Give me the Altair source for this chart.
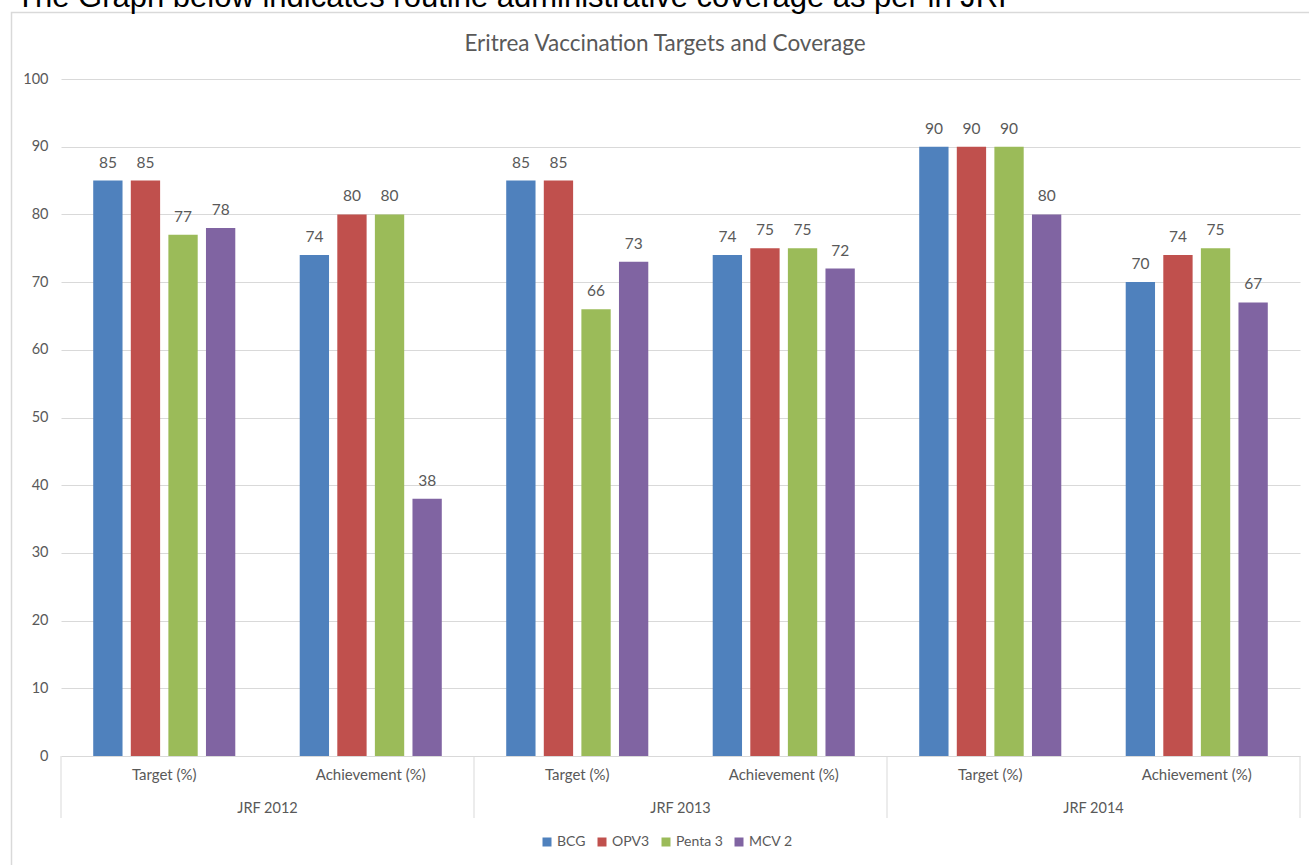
import altair as alt
import pandas as pd

# ---- data ----
years = ["JRF 2012", "JRF 2013", "JRF 2014"]
measures = ["Target (%)", "Achievement (%)"]
vaccines = ["BCG", "OPV3", "Penta 3", "MCV 2"]
colors = ["#4F81BD", "#C0504D", "#9BBB59", "#8064A2"]

bcg = [85, 74, 85, 74, 90, 70]
opv3 = [85, 80, 85, 75, 90, 74]
penta3 = [77, 80, 66, 75, 90, 75]
mcv2 = [78, 38, 73, 72, 80, 67]

y_ticks = [0, 10, 20, 30, 40, 50, 60, 70, 80, 90, 100]
header = "The Graph below indicates routine administrative coverage as per in JRF"
title = "Eritrea Vaccination Targets and Coverage"

keys = [f"{y}|{m}" for y in years for m in measures]
series = {"BCG": bcg, "OPV3": opv3, "Penta 3": penta3, "MCV 2": mcv2}
rows = []
for v in vaccines:
    for k, val in zip(keys, series[v]):
        rows.append({"key": k, "vaccine": v, "value": val})
df = pd.DataFrame(rows)

W, H = 1239, 677
FONT = "Lato"
GREY = "#595959"
LINE = "#d9d9d9"

x_enc = alt.X(
    "key:N",
    scale=alt.Scale(domain=keys, paddingInner=0.312, paddingOuter=0.156),
    axis=alt.Axis(
        title=None, labelExpr="split(datum.label, '|')[1]", labelAngle=0,
        ticks=False, domain=False, labelPadding=11, labelFontSize=15,
        labelFont=FONT, labelColor=GREY,
    ),
)
y_enc = alt.Y(
    "value:Q",
    scale=alt.Scale(domain=[0, 100], nice=False),
    axis=alt.Axis(
        title=None, values=y_ticks, grid=True, gridColor=LINE, ticks=False,
        domain=False, labelPadding=13, labelFontSize=14.5, labelFont=FONT,
        labelColor=GREY,
    ),
)
xo = alt.XOffset("vaccine:N", scale=alt.Scale(domain=vaccines, paddingInner=0.22, paddingOuter=0))

bars = alt.Chart(df).mark_bar().encode(
    x=x_enc, y=y_enc, xOffset=xo,
    color=alt.Color(
        "vaccine:N", scale=alt.Scale(domain=vaccines, range=colors), title=None,
        legend=alt.Legend(
            orient="none", legendX=479, legendY=756, direction="horizontal",
            symbolType="square", symbolSize=81, symbolStrokeWidth=0,
            labelFontSize=14, labelFont=FONT, labelColor=GREY,
            columnPadding=9, labelOffset=3,
        ),
    ),
)
labels = alt.Chart(df).mark_text(
    baseline="middle", dy=-18, fontSize=15.5, font=FONT, color=GREY
).encode(x=x_enc, y="value:Q", xOffset=xo, text="value:Q")

bar_layer = alt.layer(bars, labels)

year_df = pd.DataFrame({"year": years})
year_labels = alt.Chart(year_df).mark_text(
    baseline="middle", fontSize=14.5, font=FONT, color=GREY
).encode(
    x=alt.X("year:N", scale=alt.Scale(domain=years, paddingInner=0, paddingOuter=0), axis=None),
    y=alt.value(730),
    text="year:N",
)

sep_df = pd.DataFrame({"pos": [0, 1, 2, 3]})
seps = alt.Chart(sep_df).mark_rule(color=LINE, strokeWidth=1).encode(
    x=alt.X("pos:Q", scale=alt.Scale(domain=[0, 3], nice=False, zero=False), axis=None),
    y=alt.value(H),
    y2=alt.value(H + 62),
)

one = alt.Data(values=[{}])
border = alt.Chart(one).mark_rect(fillOpacity=0, stroke=LINE, strokeWidth=1.5).encode(
    x=alt.value(-49.5), x2=alt.value(W + 20), y=alt.value(-66.5), y2=alt.value(H + 130)
)
head = alt.Chart(one).mark_text(
    align="left", baseline="alphabetic", fontSize=31, font="Liberation Sans", color="#000000"
).encode(x=alt.value(-45), y=alt.value(-72.5), text=alt.value(header))
title_mark = alt.Chart(one).mark_text(
    align="center", baseline="middle", fontSize=22.5, font=FONT, color=GREY
).encode(x=alt.value(604), y=alt.value(-35), text=alt.value(title))

chart = alt.layer(border, head, title_mark, seps, year_labels, bar_layer).resolve_scale(
    x="independent"
).properties(
    width=W, height=H,
    autosize=alt.AutoSizeParams(type="none"),
    padding={"left": 61, "top": 79, "right": 9, "bottom": 109},
    background="white",
).configure_view(stroke=None)

chart.save("out.html", embed_options={"renderer": "svg", "actions": False})
